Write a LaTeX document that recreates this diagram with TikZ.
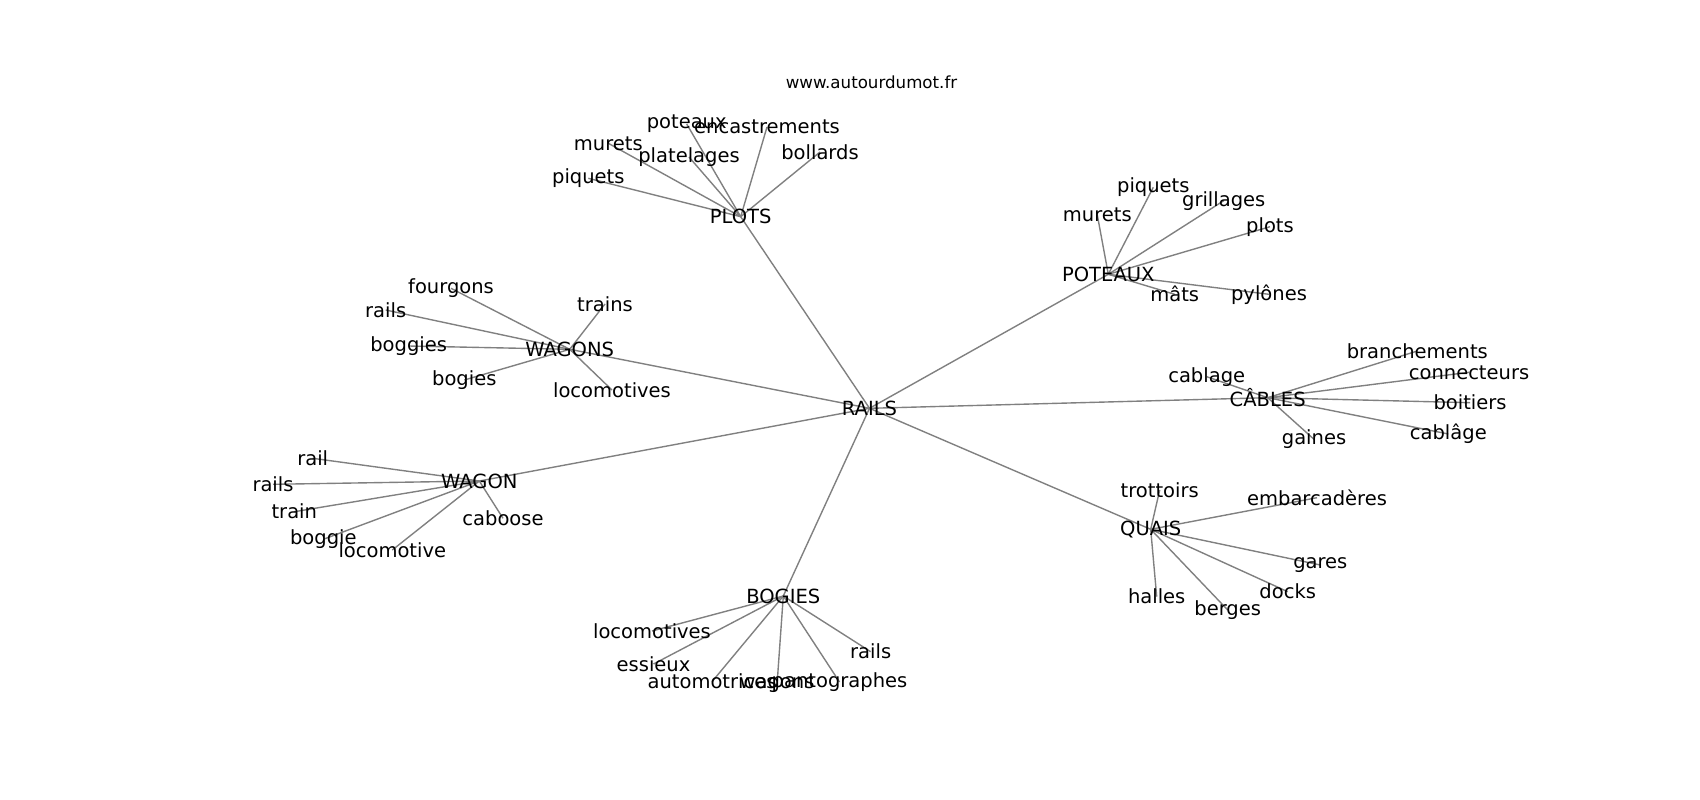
\documentclass[tikz,border=0pt]{standalone}
\usepackage{fontspec}
\setmainfont{DejaVu Sans}
\usetikzlibrary{backgrounds}
\begin{document}
\begin{tikzpicture}[x=0.72bp,y=-0.72bp,
  lbl/.style={font=\fontsize{14.05bp}{16bp}\selectfont, inner sep=0pt, text=black},
  ttl/.style={font=\fontsize{12bp}{14bp}\selectfont, inner sep=0pt, text=black},
  edge/.style={draw=gray, line width=1bp}]
\useasboundingbox (0,0) rectangle (1700,800);
\node[ttl] (title) at (871.5,82.7) {www.autourdumot.fr};
% hubs
\node[lbl] (RAILS) at (869.5,408.3) {RAILS};
\node[lbl] (PLOTS) at (740.7,216.7) {PLOTS};
\node[lbl] (POTEAUX) at (1108.3,274.3) {POTEAUX};
\node[lbl] (CABLES) at (1267.7,397.7) {CÂBLES};
\node[lbl] (QUAIS) at (1150.7,529.3) {QUAIS};
\node[lbl] (BOGIES) at (783.3,596) {BOGIES};
\node[lbl] (WAGONS) at (569.7,349.3) {WAGONS};
\node[lbl] (WAGON) at (479.3,481) {WAGON};
% PLOTS
\node[lbl] (pl1) at (588.3,178.3) {piquets};
\node[lbl] (pl2) at (608.3,143.3) {murets};
\node[lbl] (pl3) at (686.7,124) {poteaux};
\node[lbl] (pl4) at (767,127) {encastrements};
\node[lbl] (pl5) at (689,157) {platelages};
\node[lbl] (pl6) at (820,152) {bollards};
% POTEAUX
\node[lbl] (po1) at (1153.3,187.3) {piquets};
\node[lbl] (po2) at (1097.3,215) {murets};
\node[lbl] (po3) at (1223.7,200.7) {grillages};
\node[lbl] (po4) at (1270,226.7) {plots};
\node[lbl] (po5) at (1174.7,294.3) {mâts};
\node[lbl] (po6) at (1269,294.3) {pylônes};
% CABLES
\node[lbl] (ca1) at (1206.7,376.7) {cablage};
\node[lbl] (ca2) at (1417.3,351) {branchements};
\node[lbl] (ca3) at (1469,372.3) {connecteurs};
\node[lbl] (ca4) at (1470,402.7) {boitiers};
\node[lbl] (ca5) at (1448.3,434) {cablâge};
\node[lbl] (ca6) at (1314,439.3) {gaines};
% QUAIS
\node[lbl] (qu1) at (1159.7,490) {trottoirs};
\node[lbl] (qu2) at (1317,497.7) {embarcadères};
\node[lbl] (qu3) at (1320.3,565) {gares};
\node[lbl] (qu4) at (1287.7,591.7) {docks};
\node[lbl] (qu5) at (1156.7,596.7) {halles};
\node[lbl] (qu6) at (1227.7,610) {berges};
% BOGIES
\node[lbl] (bo1) at (652,631) {locomotives};
\node[lbl] (bo2) at (653.5,664) {essieux};
\node[lbl] (bo3) at (712,681.7) {automotrices};
\node[lbl] (bo4) at (777,685) {wagons};
\node[lbl] (bo5) at (839.5,682) {pantographes};
\node[lbl] (bo6) at (870.7,651.7) {rails};
% WAGONS
\node[lbl] (ws1) at (451,288.3) {fourgons};
\node[lbl] (ws2) at (385.7,310) {rails};
\node[lbl] (ws3) at (605,304) {trains};
\node[lbl] (ws4) at (408.7,346) {boggies};
\node[lbl] (ws5) at (464.3,380) {bogies};
\node[lbl] (ws6) at (612,390) {locomotives};
% WAGON
\node[lbl] (wg1) at (312.7,458.3) {rail};
\node[lbl] (wg2) at (273,484.3) {rails};
\node[lbl] (wg3) at (294.3,511.7) {train};
\node[lbl] (wg4) at (503,518.3) {caboose};
\node[lbl] (wg5) at (323.3,539.3) {boggie};
\node[lbl] (wg6) at (392.3,550) {locomotive};
\begin{scope}[on background layer]
\fill[white] (0,0) rectangle (1700,800);
\foreach \h in {PLOTS,POTEAUX,CABLES,QUAIS,BOGIES,WAGONS,WAGON}
  \draw[edge] (RAILS.center) -- (\h.center);
\foreach \i in {1,...,6} {
  \draw[edge] (PLOTS.center) -- (pl\i.center);
  \draw[edge] (POTEAUX.center) -- (po\i.center);
  \draw[edge] (CABLES.center) -- (ca\i.center);
  \draw[edge] (QUAIS.center) -- (qu\i.center);
  \draw[edge] (BOGIES.center) -- (bo\i.center);
  \draw[edge] (WAGONS.center) -- (ws\i.center);
  \draw[edge] (WAGON.center) -- (wg\i.center);
}
\end{scope}
\end{tikzpicture}
\end{document}
